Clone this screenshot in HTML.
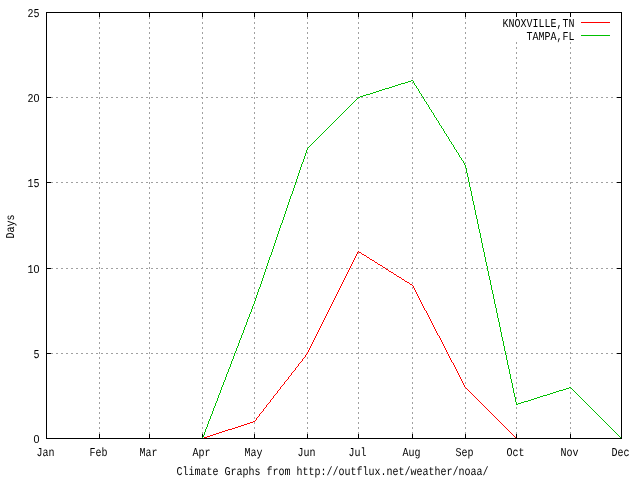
<!DOCTYPE html><html><head><meta charset="utf-8"><title>Climate Graph</title><style>html,body{margin:0;padding:0;background:#fff;width:640px;height:480px;overflow:hidden}svg{display:block}</style></head><body><svg width="640" height="480" viewBox="0 0 640 480"><rect width="640" height="480" fill="#fff"/><g stroke="#a0a0a0" stroke-width="1" stroke-dasharray="2 3" shape-rendering="crispEdges"><line x1="46" y1="353.5" x2="622" y2="353.5"/><line x1="46" y1="268.5" x2="622" y2="268.5"/><line x1="46" y1="182.5" x2="622" y2="182.5"/><line x1="46" y1="97.5" x2="622" y2="97.5"/><line x1="99.5" y1="439" x2="99.5" y2="12"/><line x1="149.5" y1="439" x2="149.5" y2="12"/><line x1="202.5" y1="439" x2="202.5" y2="12"/><line x1="254.5" y1="439" x2="254.5" y2="12"/><line x1="307.5" y1="439" x2="307.5" y2="12"/><line x1="358.5" y1="439" x2="358.5" y2="12"/><line x1="412.5" y1="439" x2="412.5" y2="12"/><line x1="465.5" y1="439" x2="465.5" y2="12"/><line x1="516.5" y1="439" x2="516.5" y2="12"/><line x1="570.5" y1="439" x2="570.5" y2="12"/></g><path fill="#000" d="M46 353h5v1h-5zM617 353h5v1h-5zM46 268h5v1h-5zM617 268h5v1h-5zM46 182h5v1h-5zM617 182h5v1h-5zM46 97h5v1h-5zM617 97h5v1h-5zM99 434h1v5h-1zM99 12h1v5h-1zM149 434h1v5h-1zM149 12h1v5h-1zM202 434h1v5h-1zM202 12h1v5h-1zM254 434h1v5h-1zM254 12h1v5h-1zM307 434h1v5h-1zM307 12h1v5h-1zM358 434h1v5h-1zM358 12h1v5h-1zM412 434h1v5h-1zM412 12h1v5h-1zM465 434h1v5h-1zM465 12h1v5h-1zM516 434h1v5h-1zM516 12h1v5h-1zM570 434h1v5h-1zM570 12h1v5h-1z"/><path fill="#ff0000" d="M358 251h1v1h-1zM357 252h1v1h-1zM359 252h2v1h-2zM357 253h1v1h-1zM361 253h1v1h-1zM356 254h1v1h-1zM362 254h2v1h-2zM356 255h1v1h-1zM364 255h2v1h-2zM355 256h1v1h-1zM366 256h1v1h-1zM355 257h1v1h-1zM367 257h2v1h-2zM354 258h1v1h-1zM369 258h1v1h-1zM354 259h1v1h-1zM370 259h2v1h-2zM353 260h1v1h-1zM372 260h2v1h-2zM353 261h1v1h-1zM374 261h1v1h-1zM352 262h1v1h-1zM375 262h2v1h-2zM352 263h1v1h-1zM377 263h1v1h-1zM351 264h1v1h-1zM378 264h2v1h-2zM351 265h1v1h-1zM380 265h2v1h-2zM350 266h1v1h-1zM382 266h1v1h-1zM350 267h1v1h-1zM383 267h2v1h-2zM349 268h1v1h-1zM385 268h1v1h-1zM349 269h1v1h-1zM386 269h2v1h-2zM348 270h1v1h-1zM388 270h1v1h-1zM348 271h1v1h-1zM389 271h2v1h-2zM347 272h1v1h-1zM391 272h2v1h-2zM347 273h1v1h-1zM393 273h1v1h-1zM346 274h1v1h-1zM394 274h2v1h-2zM346 275h1v1h-1zM396 275h1v1h-1zM345 276h1v1h-1zM397 276h2v1h-2zM345 277h1v1h-1zM399 277h2v1h-2zM344 278h1v1h-1zM401 278h1v1h-1zM344 279h1v1h-1zM402 279h2v1h-2zM343 280h1v1h-1zM404 280h1v1h-1zM343 281h1v1h-1zM405 281h2v1h-2zM342 282h1v1h-1zM407 282h2v1h-2zM342 283h1v1h-1zM409 283h1v1h-1zM341 284h1v1h-1zM410 284h2v1h-2zM341 285h1v1h-1zM412 285h1v1h-1zM340 286h1v1h-1zM413 286h1v1h-1zM340 287h1v1h-1zM413 287h1v1h-1zM339 288h1v1h-1zM414 288h1v1h-1zM339 289h1v1h-1zM414 289h1v1h-1zM338 290h1v1h-1zM415 290h1v1h-1zM338 291h1v1h-1zM415 291h1v1h-1zM337 292h1v1h-1zM416 292h1v1h-1zM337 293h1v1h-1zM416 293h1v1h-1zM336 294h1v1h-1zM417 294h1v1h-1zM336 295h1v1h-1zM417 295h1v1h-1zM335 296h1v1h-1zM418 296h1v1h-1zM335 297h1v1h-1zM418 297h1v1h-1zM334 298h1v1h-1zM419 298h1v1h-1zM334 299h1v1h-1zM419 299h1v1h-1zM333 300h1v1h-1zM420 300h1v1h-1zM333 301h1v1h-1zM420 301h1v1h-1zM332 302h1v1h-1zM421 302h1v1h-1zM332 303h1v1h-1zM421 303h1v1h-1zM331 304h1v1h-1zM422 304h1v1h-1zM331 305h1v1h-1zM422 305h1v1h-1zM330 306h1v1h-1zM423 306h1v1h-1zM330 307h1v1h-1zM423 307h1v1h-1zM329 308h1v1h-1zM424 308h1v1h-1zM329 309h1v1h-1zM424 309h1v1h-1zM328 310h1v1h-1zM425 310h1v1h-1zM328 311h1v1h-1zM426 311h1v1h-1zM327 312h1v1h-1zM426 312h1v1h-1zM327 313h1v1h-1zM427 313h1v1h-1zM326 314h1v1h-1zM427 314h1v1h-1zM326 315h1v1h-1zM428 315h1v1h-1zM325 316h1v1h-1zM428 316h1v1h-1zM325 317h1v1h-1zM429 317h1v1h-1zM324 318h1v1h-1zM429 318h1v1h-1zM324 319h1v1h-1zM430 319h1v1h-1zM323 320h1v1h-1zM430 320h1v1h-1zM323 321h1v1h-1zM431 321h1v1h-1zM322 322h1v1h-1zM431 322h1v1h-1zM322 323h1v1h-1zM432 323h1v1h-1zM321 324h1v1h-1zM432 324h1v1h-1zM321 325h1v1h-1zM433 325h1v1h-1zM320 326h1v1h-1zM433 326h1v1h-1zM320 327h1v1h-1zM434 327h1v1h-1zM319 328h1v1h-1zM434 328h1v1h-1zM319 329h1v1h-1zM435 329h1v1h-1zM318 330h1v1h-1zM435 330h1v1h-1zM318 331h1v1h-1zM436 331h1v1h-1zM317 332h1v1h-1zM436 332h1v1h-1zM317 333h1v1h-1zM437 333h1v1h-1zM316 334h1v1h-1zM437 334h1v1h-1zM316 335h1v1h-1zM438 335h1v1h-1zM315 336h1v1h-1zM439 336h1v1h-1zM315 337h1v1h-1zM439 337h1v1h-1zM314 338h1v1h-1zM440 338h1v1h-1zM314 339h1v1h-1zM440 339h1v1h-1zM313 340h1v1h-1zM441 340h1v1h-1zM313 341h1v1h-1zM441 341h1v1h-1zM312 342h1v1h-1zM442 342h1v1h-1zM312 343h1v1h-1zM442 343h1v1h-1zM311 344h1v1h-1zM443 344h1v1h-1zM311 345h1v1h-1zM443 345h1v1h-1zM310 346h1v1h-1zM444 346h1v1h-1zM310 347h1v1h-1zM444 347h1v1h-1zM309 348h1v1h-1zM445 348h1v1h-1zM309 349h1v1h-1zM445 349h1v1h-1zM308 350h1v1h-1zM446 350h1v1h-1zM308 351h1v1h-1zM446 351h1v1h-1zM307 352h1v1h-1zM447 352h1v1h-1zM307 353h1v1h-1zM447 353h1v1h-1zM306 354h1v1h-1zM448 354h1v1h-1zM305 355h1v1h-1zM448 355h1v1h-1zM305 356h1v1h-1zM449 356h1v1h-1zM304 357h1v1h-1zM449 357h1v1h-1zM303 358h1v1h-1zM450 358h1v1h-1zM302 359h1v1h-1zM450 359h1v1h-1zM302 360h1v1h-1zM451 360h1v1h-1zM301 361h1v1h-1zM451 361h1v1h-1zM300 362h1v1h-1zM452 362h1v1h-1zM299 363h1v1h-1zM453 363h1v1h-1zM298 364h1v1h-1zM453 364h1v1h-1zM298 365h1v1h-1zM454 365h1v1h-1zM297 366h1v1h-1zM454 366h1v1h-1zM296 367h1v1h-1zM455 367h1v1h-1zM295 368h1v1h-1zM455 368h1v1h-1zM295 369h1v1h-1zM456 369h1v1h-1zM294 370h1v1h-1zM456 370h1v1h-1zM293 371h1v1h-1zM457 371h1v1h-1zM292 372h1v1h-1zM457 372h1v1h-1zM291 373h1v1h-1zM458 373h1v1h-1zM291 374h1v1h-1zM458 374h1v1h-1zM290 375h1v1h-1zM459 375h1v1h-1zM289 376h1v1h-1zM459 376h1v1h-1zM288 377h1v1h-1zM460 377h1v1h-1zM288 378h1v1h-1zM460 378h1v1h-1zM287 379h1v1h-1zM461 379h1v1h-1zM286 380h1v1h-1zM461 380h1v1h-1zM285 381h1v1h-1zM462 381h1v1h-1zM284 382h1v1h-1zM462 382h1v1h-1zM284 383h1v1h-1zM463 383h1v1h-1zM283 384h1v1h-1zM463 384h1v1h-1zM282 385h1v1h-1zM464 385h1v1h-1zM281 386h1v1h-1zM464 386h1v1h-1zM280 387h1v1h-1zM465 387h1v1h-1zM280 388h1v1h-1zM466 388h1v1h-1zM279 389h1v1h-1zM467 389h1v1h-1zM278 390h1v1h-1zM468 390h1v1h-1zM277 391h1v1h-1zM469 391h1v1h-1zM277 392h1v1h-1zM470 392h1v1h-1zM276 393h1v1h-1zM471 393h1v1h-1zM275 394h1v1h-1zM472 394h1v1h-1zM274 395h1v1h-1zM473 395h1v1h-1zM273 396h1v1h-1zM474 396h1v1h-1zM273 397h1v1h-1zM475 397h1v1h-1zM272 398h1v1h-1zM476 398h1v1h-1zM271 399h1v1h-1zM477 399h1v1h-1zM270 400h1v1h-1zM478 400h1v1h-1zM270 401h1v1h-1zM479 401h1v1h-1zM269 402h1v1h-1zM480 402h1v1h-1zM268 403h1v1h-1zM481 403h1v1h-1zM267 404h1v1h-1zM482 404h1v1h-1zM266 405h1v1h-1zM483 405h1v1h-1zM266 406h1v1h-1zM484 406h1v1h-1zM265 407h1v1h-1zM485 407h1v1h-1zM264 408h1v1h-1zM486 408h1v1h-1zM263 409h1v1h-1zM487 409h1v1h-1zM263 410h1v1h-1zM488 410h1v1h-1zM262 411h1v1h-1zM489 411h1v1h-1zM261 412h1v1h-1zM490 412h1v1h-1zM260 413h1v1h-1zM491 413h1v1h-1zM259 414h1v1h-1zM492 414h1v1h-1zM259 415h1v1h-1zM493 415h1v1h-1zM258 416h1v1h-1zM494 416h1v1h-1zM257 417h1v1h-1zM495 417h1v1h-1zM256 418h1v1h-1zM496 418h1v1h-1zM256 419h1v1h-1zM497 419h1v1h-1zM255 420h1v1h-1zM498 420h1v1h-1zM253 421h2v1h-2zM499 421h1v1h-1zM250 422h3v1h-3zM500 422h1v1h-1zM247 423h3v1h-3zM501 423h1v1h-1zM244 424h3v1h-3zM502 424h1v1h-1zM241 425h3v1h-3zM503 425h1v1h-1zM238 426h3v1h-3zM504 426h1v1h-1zM235 427h3v1h-3zM505 427h1v1h-1zM232 428h3v1h-3zM506 428h1v1h-1zM228 429h4v1h-4zM507 429h1v1h-1zM225 430h3v1h-3zM508 430h1v1h-1zM222 431h3v1h-3zM509 431h1v1h-1zM219 432h3v1h-3zM510 432h1v1h-1zM216 433h3v1h-3zM511 433h1v1h-1zM213 434h3v1h-3zM512 434h1v1h-1zM210 435h3v1h-3zM513 435h1v1h-1zM207 436h3v1h-3zM514 436h1v1h-1zM204 437h3v1h-3zM515 437h1v1h-1zM202 438h2v1h-2zM516 438h1v1h-1z"/><path fill="#00c000" d="M411 80h2v1h-2zM408 81h3v1h-3zM413 81h1v1h-1zM405 82h3v1h-3zM413 82h1v1h-1zM401 83h4v1h-4zM414 83h1v1h-1zM398 84h3v1h-3zM414 84h1v1h-1zM395 85h3v1h-3zM415 85h1v1h-1zM392 86h3v1h-3zM416 86h1v1h-1zM389 87h3v1h-3zM416 87h1v1h-1zM385 88h4v1h-4zM417 88h1v1h-1zM382 89h3v1h-3zM418 89h1v1h-1zM379 90h3v1h-3zM418 90h1v1h-1zM376 91h3v1h-3zM419 91h1v1h-1zM373 92h3v1h-3zM419 92h1v1h-1zM370 93h3v1h-3zM420 93h1v1h-1zM366 94h4v1h-4zM421 94h1v1h-1zM363 95h3v1h-3zM421 95h1v1h-1zM360 96h3v1h-3zM422 96h1v1h-1zM358 97h2v1h-2zM423 97h1v1h-1zM357 98h1v1h-1zM423 98h1v1h-1zM356 99h1v1h-1zM424 99h1v1h-1zM355 100h1v1h-1zM424 100h1v1h-1zM354 101h1v1h-1zM425 101h1v1h-1zM353 102h1v1h-1zM426 102h1v1h-1zM352 103h1v1h-1zM426 103h1v1h-1zM351 104h1v1h-1zM427 104h1v1h-1zM350 105h1v1h-1zM428 105h1v1h-1zM349 106h1v1h-1zM428 106h1v1h-1zM348 107h1v1h-1zM429 107h1v1h-1zM347 108h1v1h-1zM429 108h1v1h-1zM346 109h1v1h-1zM430 109h1v1h-1zM345 110h1v1h-1zM431 110h1v1h-1zM344 111h1v1h-1zM431 111h1v1h-1zM343 112h1v1h-1zM432 112h1v1h-1zM342 113h1v1h-1zM433 113h1v1h-1zM341 114h1v1h-1zM433 114h1v1h-1zM340 115h1v1h-1zM434 115h1v1h-1zM339 116h1v1h-1zM434 116h1v1h-1zM338 117h1v1h-1zM435 117h1v1h-1zM337 118h1v1h-1zM436 118h1v1h-1zM336 119h1v1h-1zM436 119h1v1h-1zM335 120h1v1h-1zM437 120h1v1h-1zM334 121h1v1h-1zM438 121h1v1h-1zM333 122h1v1h-1zM438 122h1v1h-1zM332 123h1v1h-1zM439 123h1v1h-1zM331 124h1v1h-1zM439 124h1v1h-1zM330 125h1v1h-1zM440 125h1v1h-1zM329 126h1v1h-1zM441 126h1v1h-1zM328 127h1v1h-1zM441 127h1v1h-1zM327 128h1v1h-1zM442 128h1v1h-1zM326 129h1v1h-1zM443 129h1v1h-1zM325 130h1v1h-1zM443 130h1v1h-1zM324 131h1v1h-1zM444 131h1v1h-1zM323 132h1v1h-1zM444 132h1v1h-1zM322 133h1v1h-1zM445 133h1v1h-1zM321 134h1v1h-1zM446 134h1v1h-1zM320 135h1v1h-1zM446 135h1v1h-1zM319 136h1v1h-1zM447 136h1v1h-1zM318 137h1v1h-1zM448 137h1v1h-1zM317 138h1v1h-1zM448 138h1v1h-1zM316 139h1v1h-1zM449 139h1v1h-1zM315 140h1v1h-1zM449 140h1v1h-1zM314 141h1v1h-1zM450 141h1v1h-1zM313 142h1v1h-1zM451 142h1v1h-1zM312 143h1v1h-1zM451 143h1v1h-1zM311 144h1v1h-1zM452 144h1v1h-1zM310 145h1v1h-1zM453 145h1v1h-1zM309 146h1v1h-1zM453 146h1v1h-1zM308 147h1v1h-1zM454 147h1v1h-1zM307 148h1v1h-1zM454 148h1v1h-1zM307 149h1v1h-1zM455 149h1v1h-1zM306 150h1v1h-1zM456 150h1v1h-1zM306 151h1v1h-1zM456 151h1v1h-1zM306 152h1v1h-1zM457 152h1v1h-1zM305 153h1v1h-1zM458 153h1v1h-1zM305 154h1v1h-1zM458 154h1v1h-1zM305 155h1v1h-1zM459 155h1v1h-1zM304 156h1v1h-1zM459 156h1v1h-1zM304 157h1v1h-1zM460 157h1v1h-1zM304 158h1v1h-1zM461 158h1v1h-1zM303 159h1v1h-1zM461 159h1v1h-1zM303 160h1v1h-1zM462 160h1v1h-1zM303 161h1v1h-1zM463 161h1v1h-1zM302 162h1v1h-1zM463 162h1v1h-1zM302 163h1v1h-1zM464 163h1v1h-1zM301 164h1v1h-1zM464 164h1v1h-1zM301 165h1v1h-1zM465 165h1v1h-1zM301 166h1v1h-1zM465 166h1v1h-1zM300 167h1v1h-1zM465 167h1v1h-1zM300 168h1v1h-1zM466 168h1v1h-1zM300 169h1v1h-1zM466 169h1v1h-1zM299 170h1v1h-1zM466 170h1v1h-1zM299 171h1v1h-1zM466 171h1v1h-1zM299 172h1v1h-1zM466 172h1v1h-1zM298 173h1v1h-1zM467 173h1v1h-1zM298 174h1v1h-1zM467 174h1v1h-1zM298 175h1v1h-1zM467 175h1v1h-1zM297 176h1v1h-1zM467 176h1v1h-1zM297 177h1v1h-1zM468 177h1v1h-1zM297 178h1v1h-1zM468 178h1v1h-1zM296 179h1v1h-1zM468 179h1v1h-1zM296 180h1v1h-1zM468 180h1v1h-1zM296 181h1v1h-1zM468 181h1v1h-1zM295 182h1v1h-1zM469 182h1v1h-1zM295 183h1v1h-1zM469 183h1v1h-1zM295 184h1v1h-1zM469 184h1v1h-1zM294 185h1v1h-1zM469 185h1v1h-1zM294 186h1v1h-1zM469 186h1v1h-1zM294 187h1v1h-1zM470 187h1v1h-1zM293 188h1v1h-1zM470 188h1v1h-1zM293 189h1v1h-1zM470 189h1v1h-1zM293 190h1v1h-1zM470 190h1v1h-1zM292 191h1v1h-1zM471 191h1v1h-1zM292 192h1v1h-1zM471 192h1v1h-1zM292 193h1v1h-1zM471 193h1v1h-1zM291 194h1v1h-1zM471 194h1v1h-1zM291 195h1v1h-1zM471 195h1v1h-1zM290 196h1v1h-1zM472 196h1v1h-1zM290 197h1v1h-1zM472 197h1v1h-1zM290 198h1v1h-1zM472 198h1v1h-1zM289 199h1v1h-1zM472 199h1v1h-1zM289 200h1v1h-1zM472 200h1v1h-1zM289 201h1v1h-1zM473 201h1v1h-1zM288 202h1v1h-1zM473 202h1v1h-1zM288 203h1v1h-1zM473 203h1v1h-1zM288 204h1v1h-1zM473 204h1v1h-1zM287 205h1v1h-1zM474 205h1v1h-1zM287 206h1v1h-1zM474 206h1v1h-1zM287 207h1v1h-1zM474 207h1v1h-1zM286 208h1v1h-1zM474 208h1v1h-1zM286 209h1v1h-1zM474 209h1v1h-1zM286 210h1v1h-1zM475 210h1v1h-1zM285 211h1v1h-1zM475 211h1v1h-1zM285 212h1v1h-1zM475 212h1v1h-1zM285 213h1v1h-1zM475 213h1v1h-1zM284 214h1v1h-1zM475 214h1v1h-1zM284 215h1v1h-1zM476 215h1v1h-1zM284 216h1v1h-1zM476 216h1v1h-1zM283 217h1v1h-1zM476 217h1v1h-1zM283 218h1v1h-1zM476 218h1v1h-1zM283 219h1v1h-1zM477 219h1v1h-1zM282 220h1v1h-1zM477 220h1v1h-1zM282 221h1v1h-1zM477 221h1v1h-1zM282 222h1v1h-1zM477 222h1v1h-1zM281 223h1v1h-1zM477 223h1v1h-1zM281 224h1v1h-1zM478 224h1v1h-1zM280 225h1v1h-1zM478 225h1v1h-1zM280 226h1v1h-1zM478 226h1v1h-1zM280 227h1v1h-1zM478 227h1v1h-1zM279 228h1v1h-1zM478 228h1v1h-1zM279 229h1v1h-1zM479 229h1v1h-1zM279 230h1v1h-1zM479 230h1v1h-1zM278 231h1v1h-1zM479 231h1v1h-1zM278 232h1v1h-1zM479 232h1v1h-1zM278 233h1v1h-1zM480 233h1v1h-1zM277 234h1v1h-1zM480 234h1v1h-1zM277 235h1v1h-1zM480 235h1v1h-1zM277 236h1v1h-1zM480 236h1v1h-1zM276 237h1v1h-1zM480 237h1v1h-1zM276 238h1v1h-1zM481 238h1v1h-1zM276 239h1v1h-1zM481 239h1v1h-1zM275 240h1v1h-1zM481 240h1v1h-1zM275 241h1v1h-1zM481 241h1v1h-1zM275 242h1v1h-1zM481 242h1v1h-1zM274 243h1v1h-1zM482 243h1v1h-1zM274 244h1v1h-1zM482 244h1v1h-1zM274 245h1v1h-1zM482 245h1v1h-1zM273 246h1v1h-1zM482 246h1v1h-1zM273 247h1v1h-1zM482 247h1v1h-1zM273 248h1v1h-1zM483 248h1v1h-1zM272 249h1v1h-1zM483 249h1v1h-1zM272 250h1v1h-1zM483 250h1v1h-1zM272 251h1v1h-1zM483 251h1v1h-1zM271 252h1v1h-1zM484 252h1v1h-1zM271 253h1v1h-1zM484 253h1v1h-1zM271 254h1v1h-1zM484 254h1v1h-1zM270 255h1v1h-1zM484 255h1v1h-1zM270 256h1v1h-1zM484 256h1v1h-1zM269 257h1v1h-1zM485 257h1v1h-1zM269 258h1v1h-1zM485 258h1v1h-1zM269 259h1v1h-1zM485 259h1v1h-1zM268 260h1v1h-1zM485 260h1v1h-1zM268 261h1v1h-1zM485 261h1v1h-1zM268 262h1v1h-1zM486 262h1v1h-1zM267 263h1v1h-1zM486 263h1v1h-1zM267 264h1v1h-1zM486 264h1v1h-1zM267 265h1v1h-1zM486 265h1v1h-1zM266 266h1v1h-1zM487 266h1v1h-1zM266 267h1v1h-1zM487 267h1v1h-1zM266 268h1v1h-1zM487 268h1v1h-1zM265 269h1v1h-1zM487 269h1v1h-1zM265 270h1v1h-1zM487 270h1v1h-1zM265 271h1v1h-1zM488 271h1v1h-1zM264 272h1v1h-1zM488 272h1v1h-1zM264 273h1v1h-1zM488 273h1v1h-1zM264 274h1v1h-1zM488 274h1v1h-1zM263 275h1v1h-1zM488 275h1v1h-1zM263 276h1v1h-1zM489 276h1v1h-1zM263 277h1v1h-1zM489 277h1v1h-1zM262 278h1v1h-1zM489 278h1v1h-1zM262 279h1v1h-1zM489 279h1v1h-1zM262 280h1v1h-1zM490 280h1v1h-1zM261 281h1v1h-1zM490 281h1v1h-1zM261 282h1v1h-1zM490 282h1v1h-1zM261 283h1v1h-1zM490 283h1v1h-1zM260 284h1v1h-1zM490 284h1v1h-1zM260 285h1v1h-1zM491 285h1v1h-1zM260 286h1v1h-1zM491 286h1v1h-1zM259 287h1v1h-1zM491 287h1v1h-1zM259 288h1v1h-1zM491 288h1v1h-1zM258 289h1v1h-1zM491 289h1v1h-1zM258 290h1v1h-1zM492 290h1v1h-1zM258 291h1v1h-1zM492 291h1v1h-1zM257 292h1v1h-1zM492 292h1v1h-1zM257 293h1v1h-1zM492 293h1v1h-1zM257 294h1v1h-1zM493 294h1v1h-1zM256 295h1v1h-1zM493 295h1v1h-1zM256 296h1v1h-1zM493 296h1v1h-1zM256 297h1v1h-1zM493 297h1v1h-1zM255 298h1v1h-1zM493 298h1v1h-1zM255 299h1v1h-1zM494 299h1v1h-1zM255 300h1v1h-1zM494 300h1v1h-1zM254 301h1v1h-1zM494 301h1v1h-1zM254 302h1v1h-1zM494 302h1v1h-1zM254 303h1v1h-1zM494 303h1v1h-1zM253 304h1v1h-1zM495 304h1v1h-1zM253 305h1v1h-1zM495 305h1v1h-1zM252 306h1v1h-1zM495 306h1v1h-1zM252 307h1v1h-1zM495 307h1v1h-1zM252 308h1v1h-1zM496 308h1v1h-1zM251 309h1v1h-1zM496 309h1v1h-1zM251 310h1v1h-1zM496 310h1v1h-1zM251 311h1v1h-1zM496 311h1v1h-1zM250 312h1v1h-1zM496 312h1v1h-1zM250 313h1v1h-1zM497 313h1v1h-1zM249 314h1v1h-1zM497 314h1v1h-1zM249 315h1v1h-1zM497 315h1v1h-1zM249 316h1v1h-1zM497 316h1v1h-1zM248 317h1v1h-1zM497 317h1v1h-1zM248 318h1v1h-1zM498 318h1v1h-1zM247 319h1v1h-1zM498 319h1v1h-1zM247 320h1v1h-1zM498 320h1v1h-1zM247 321h1v1h-1zM498 321h1v1h-1zM246 322h1v1h-1zM499 322h1v1h-1zM246 323h1v1h-1zM499 323h1v1h-1zM246 324h1v1h-1zM499 324h1v1h-1zM245 325h1v1h-1zM499 325h1v1h-1zM245 326h1v1h-1zM499 326h1v1h-1zM244 327h1v1h-1zM500 327h1v1h-1zM244 328h1v1h-1zM500 328h1v1h-1zM244 329h1v1h-1zM500 329h1v1h-1zM243 330h1v1h-1zM500 330h1v1h-1zM243 331h1v1h-1zM500 331h1v1h-1zM243 332h1v1h-1zM501 332h1v1h-1zM242 333h1v1h-1zM501 333h1v1h-1zM242 334h1v1h-1zM501 334h1v1h-1zM241 335h1v1h-1zM501 335h1v1h-1zM241 336h1v1h-1zM501 336h1v1h-1zM241 337h1v1h-1zM502 337h1v1h-1zM240 338h1v1h-1zM502 338h1v1h-1zM240 339h1v1h-1zM502 339h1v1h-1zM239 340h1v1h-1zM502 340h1v1h-1zM239 341h1v1h-1zM503 341h1v1h-1zM239 342h1v1h-1zM503 342h1v1h-1zM238 343h1v1h-1zM503 343h1v1h-1zM238 344h1v1h-1zM503 344h1v1h-1zM238 345h1v1h-1zM503 345h1v1h-1zM237 346h1v1h-1zM504 346h1v1h-1zM237 347h1v1h-1zM504 347h1v1h-1zM236 348h1v1h-1zM504 348h1v1h-1zM236 349h1v1h-1zM504 349h1v1h-1zM236 350h1v1h-1zM504 350h1v1h-1zM235 351h1v1h-1zM505 351h1v1h-1zM235 352h1v1h-1zM505 352h1v1h-1zM234 353h1v1h-1zM505 353h1v1h-1zM234 354h1v1h-1zM505 354h1v1h-1zM234 355h1v1h-1zM506 355h1v1h-1zM233 356h1v1h-1zM506 356h1v1h-1zM233 357h1v1h-1zM506 357h1v1h-1zM233 358h1v1h-1zM506 358h1v1h-1zM232 359h1v1h-1zM506 359h1v1h-1zM232 360h1v1h-1zM507 360h1v1h-1zM231 361h1v1h-1zM507 361h1v1h-1zM231 362h1v1h-1zM507 362h1v1h-1zM231 363h1v1h-1zM507 363h1v1h-1zM230 364h1v1h-1zM507 364h1v1h-1zM230 365h1v1h-1zM508 365h1v1h-1zM230 366h1v1h-1zM508 366h1v1h-1zM229 367h1v1h-1zM508 367h1v1h-1zM229 368h1v1h-1zM508 368h1v1h-1zM228 369h1v1h-1zM509 369h1v1h-1zM228 370h1v1h-1zM509 370h1v1h-1zM228 371h1v1h-1zM509 371h1v1h-1zM227 372h1v1h-1zM509 372h1v1h-1zM227 373h1v1h-1zM509 373h1v1h-1zM226 374h1v1h-1zM510 374h1v1h-1zM226 375h1v1h-1zM510 375h1v1h-1zM226 376h1v1h-1zM510 376h1v1h-1zM225 377h1v1h-1zM510 377h1v1h-1zM225 378h1v1h-1zM510 378h1v1h-1zM225 379h1v1h-1zM511 379h1v1h-1zM224 380h1v1h-1zM511 380h1v1h-1zM224 381h1v1h-1zM511 381h1v1h-1zM223 382h1v1h-1zM511 382h1v1h-1zM223 383h1v1h-1zM512 383h1v1h-1zM223 384h1v1h-1zM512 384h1v1h-1zM222 385h1v1h-1zM512 385h1v1h-1zM222 386h1v1h-1zM512 386h1v1h-1zM221 387h1v1h-1zM512 387h1v1h-1zM569 387h2v1h-2zM221 388h1v1h-1zM513 388h1v1h-1zM566 388h3v1h-3zM571 388h1v1h-1zM221 389h1v1h-1zM513 389h1v1h-1zM563 389h3v1h-3zM572 389h1v1h-1zM220 390h1v1h-1zM513 390h1v1h-1zM559 390h4v1h-4zM573 390h1v1h-1zM220 391h1v1h-1zM513 391h1v1h-1zM556 391h3v1h-3zM574 391h1v1h-1zM220 392h1v1h-1zM513 392h1v1h-1zM553 392h3v1h-3zM575 392h1v1h-1zM219 393h1v1h-1zM514 393h1v1h-1zM550 393h3v1h-3zM576 393h1v1h-1zM219 394h1v1h-1zM514 394h1v1h-1zM547 394h3v1h-3zM577 394h1v1h-1zM218 395h1v1h-1zM514 395h1v1h-1zM543 395h4v1h-4zM578 395h1v1h-1zM218 396h1v1h-1zM514 396h1v1h-1zM540 396h3v1h-3zM579 396h1v1h-1zM218 397h1v1h-1zM515 397h1v1h-1zM537 397h3v1h-3zM580 397h1v1h-1zM217 398h1v1h-1zM515 398h1v1h-1zM534 398h3v1h-3zM581 398h1v1h-1zM217 399h1v1h-1zM515 399h1v1h-1zM531 399h3v1h-3zM582 399h1v1h-1zM217 400h1v1h-1zM515 400h1v1h-1zM528 400h3v1h-3zM583 400h1v1h-1zM216 401h1v1h-1zM515 401h1v1h-1zM524 401h4v1h-4zM584 401h1v1h-1zM216 402h1v1h-1zM516 402h1v1h-1zM521 402h3v1h-3zM585 402h1v1h-1zM215 403h1v1h-1zM516 403h1v1h-1zM518 403h3v1h-3zM586 403h1v1h-1zM215 404h1v1h-1zM516 404h2v1h-2zM587 404h1v1h-1zM215 405h1v1h-1zM588 405h1v1h-1zM214 406h1v1h-1zM589 406h1v1h-1zM214 407h1v1h-1zM590 407h1v1h-1zM213 408h1v1h-1zM591 408h1v1h-1zM213 409h1v1h-1zM592 409h1v1h-1zM213 410h1v1h-1zM593 410h1v1h-1zM212 411h1v1h-1zM594 411h1v1h-1zM212 412h1v1h-1zM595 412h1v1h-1zM212 413h1v1h-1zM596 413h1v1h-1zM211 414h1v1h-1zM597 414h1v1h-1zM211 415h1v1h-1zM598 415h1v1h-1zM210 416h1v1h-1zM599 416h1v1h-1zM210 417h1v1h-1zM600 417h1v1h-1zM210 418h1v1h-1zM601 418h1v1h-1zM209 419h1v1h-1zM602 419h1v1h-1zM209 420h1v1h-1zM603 420h1v1h-1zM208 421h1v1h-1zM604 421h1v1h-1zM208 422h1v1h-1zM605 422h1v1h-1zM208 423h1v1h-1zM606 423h1v1h-1zM207 424h1v1h-1zM607 424h1v1h-1zM207 425h1v1h-1zM608 425h1v1h-1zM207 426h1v1h-1zM609 426h1v1h-1zM206 427h1v1h-1zM610 427h1v1h-1zM206 428h1v1h-1zM611 428h1v1h-1zM205 429h1v1h-1zM612 429h1v1h-1zM205 430h1v1h-1zM613 430h1v1h-1zM205 431h1v1h-1zM614 431h1v1h-1zM204 432h1v1h-1zM615 432h1v1h-1zM204 433h1v1h-1zM616 433h1v1h-1zM204 434h1v1h-1zM617 434h1v1h-1zM203 435h1v1h-1zM618 435h1v1h-1zM203 436h1v1h-1zM619 436h1v1h-1zM202 437h1v1h-1zM620 437h1v1h-1zM202 438h1v1h-1zM621 438h1v1h-1z"/><rect x="498" y="17" width="118" height="24" fill="#fff"/><path fill="#ff0000" d="M581 22h29v1h-29z"/><path fill="#00c000" d="M581 35h29v1h-29z"/><path fill="#000" d="M46 12h576v1h-576zM46 438h576v1h-576zM46 12h1v427h-1zM621 12h1v427h-1z"/><g fill="#000" text-rendering="geometricPrecision" font-family='"Liberation Mono", "DejaVu Sans Mono", monospace' font-size="12.0"><text y="443"><tspan x="33.4" textLength="6" lengthAdjust="spacingAndGlyphs" font-family="Liberation Sans, sans-serif" font-size="11.4">0</tspan></text><text y="358"><tspan x="33.4" textLength="6" lengthAdjust="spacingAndGlyphs">5</tspan></text><text y="273"><tspan x="27.4" textLength="6" lengthAdjust="spacingAndGlyphs">1</tspan><tspan x="33.4" textLength="6" lengthAdjust="spacingAndGlyphs" font-family="Liberation Sans, sans-serif" font-size="11.4">0</tspan></text><text y="187"><tspan x="27.4" textLength="6" lengthAdjust="spacingAndGlyphs">1</tspan><tspan x="33.4" textLength="6" lengthAdjust="spacingAndGlyphs">5</tspan></text><text y="102"><tspan x="27.4" textLength="6" lengthAdjust="spacingAndGlyphs">2</tspan><tspan x="33.4" textLength="6" lengthAdjust="spacingAndGlyphs" font-family="Liberation Sans, sans-serif" font-size="11.4">0</tspan></text><text y="17"><tspan x="27.4" textLength="6" lengthAdjust="spacingAndGlyphs">2</tspan><tspan x="33.4" textLength="6" lengthAdjust="spacingAndGlyphs">5</tspan></text><text x="36.4" y="456" textLength="18" lengthAdjust="spacingAndGlyphs">Jan</text><text x="89.4" y="456" textLength="18" lengthAdjust="spacingAndGlyphs">Feb</text><text x="139.4" y="456" textLength="18" lengthAdjust="spacingAndGlyphs">Mar</text><text x="192.4" y="456" textLength="18" lengthAdjust="spacingAndGlyphs">Apr</text><text x="244.4" y="456" textLength="18" lengthAdjust="spacingAndGlyphs">May</text><text x="297.4" y="456" textLength="18" lengthAdjust="spacingAndGlyphs">Jun</text><text x="348.4" y="456" textLength="18" lengthAdjust="spacingAndGlyphs">Jul</text><text x="402.4" y="456" textLength="18" lengthAdjust="spacingAndGlyphs">Aug</text><text x="455.4" y="456" textLength="18" lengthAdjust="spacingAndGlyphs">Sep</text><text x="506.4" y="456" textLength="18" lengthAdjust="spacingAndGlyphs">Oct</text><text x="560.4" y="456" textLength="18" lengthAdjust="spacingAndGlyphs">Nov</text><text x="611.4" y="456" textLength="18" lengthAdjust="spacingAndGlyphs">Dec</text><text x="502.4" y="27" textLength="72" lengthAdjust="spacingAndGlyphs">KNOXVILLE,TN</text><text x="526.4" y="40" textLength="48" lengthAdjust="spacingAndGlyphs">TAMPA,FL</text><text x="176.4" y="475" textLength="312" lengthAdjust="spacingAndGlyphs">Climate Graphs from http://outflux.net/weather/noaa/</text><text transform="translate(14 238.5) rotate(-90)" x="0" y="0" textLength="24" lengthAdjust="spacingAndGlyphs">Days</text></g></svg></body></html>
